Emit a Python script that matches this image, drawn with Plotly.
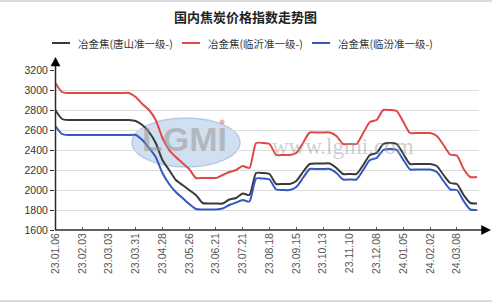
import plotly.graph_objects as go

# ---------------- data ----------------
dates = [
    "23.01.06", "23.01.13", "23.01.20", "23.01.27", "23.02.03", "23.02.10", "23.02.17", "23.02.24",
    "23.03.03", "23.03.10", "23.03.17", "23.03.24", "23.03.31", "23.04.07", "23.04.14", "23.04.21",
    "23.04.28", "23.05.05", "23.05.12", "23.05.19", "23.05.26", "23.06.02", "23.06.09", "23.06.16",
    "23.06.21", "23.06.30", "23.07.07", "23.07.14", "23.07.21", "23.07.28", "23.08.04", "23.08.11",
    "23.08.18", "23.08.25", "23.09.01", "23.09.08", "23.09.15", "23.09.22", "23.09.28", "23.10.07",
    "23.10.13", "23.10.20", "23.10.27", "23.11.03", "23.11.10", "23.11.17", "23.11.24", "23.12.01",
    "23.12.08", "23.12.15", "23.12.22", "23.12.29", "24.01.05", "24.01.12", "24.01.19", "24.01.26",
    "24.02.02", "24.02.08", "24.02.23", "24.03.01", "24.03.08", "24.03.15", "24.03.22", "24.03.29",
]

tangshan = [
    2800, 2710, 2700, 2700, 2700, 2700, 2700, 2700, 2700, 2700, 2700, 2700, 2690, 2650, 2580, 2470,
    2300, 2200, 2100, 2050, 2000, 1950, 1870, 1865, 1865, 1865, 1905, 1920, 1965, 1950, 2170, 2170,
    2160, 2060, 2060, 2060, 2090, 2180, 2260, 2265, 2265, 2265, 2220, 2160, 2160, 2160, 2250, 2350,
    2370, 2460, 2470, 2460, 2360, 2260, 2260, 2260, 2260, 2240, 2150, 2070, 2060, 1950, 1870, 1865,
]

linyi = [
    3070, 2980, 2970, 2970, 2970, 2970, 2970, 2970, 2970, 2970, 2970, 2970, 2930, 2860, 2800, 2700,
    2520, 2400, 2330, 2270, 2210, 2120, 2120, 2120, 2120, 2150, 2180, 2200, 2240, 2220, 2470, 2470,
    2460, 2350, 2350, 2350, 2370, 2470, 2575, 2575, 2575, 2575, 2540, 2460, 2460, 2460, 2570, 2680,
    2700, 2800, 2800, 2790, 2680, 2570, 2570, 2570, 2570, 2540, 2450, 2355, 2345, 2210, 2130, 2130,
]

linfen = [
    2640, 2560, 2550, 2550, 2550, 2550, 2550, 2550, 2550, 2550, 2550, 2550, 2550, 2500, 2420, 2330,
    2170, 2060, 1980, 1920, 1860, 1810, 1805, 1805, 1805, 1815, 1850, 1875, 1900, 1885, 2115, 2115,
    2105, 2005, 2000, 2000, 2030, 2120, 2210, 2210, 2210, 2210, 2170, 2105, 2105, 2105, 2200, 2300,
    2320, 2400, 2410, 2400, 2300, 2205, 2205, 2205, 2205, 2180, 2090, 2005, 2000, 1890, 1805, 1800,
]

series_names = ["冶金焦(唐山准一级-)", "冶金焦(临沂准一级-)", "冶金焦(临汾准一级-)"]
series_vals = [tangshan, linyi, linfen]
series_colors = ["#3a3a3a", "#e04848", "#3558c4"]

title_text = "国内焦炭价格指数走势图"
y_ticks = [1600, 1800, 2000, 2200, 2400, 2600, 2800, 3000, 3200]

# ---------------- geometry helpers (pixels -> paper) ----------------
W, H = 492, 303
L, R, T, B = 55, 13, 70, 73
PW, PH = W - L - R, H - T - B


def px(x):
    return (x - L) / PW


def py(y):
    return (H - B - y) / PH


fig = go.Figure()

for name, vals, col in zip(series_names, series_vals, series_colors):
    fig.add_trace(go.Scatter(
        x=dates, y=vals, mode="lines", name=name,
        line=dict(color=col, width=2, shape="spline", smoothing=0.6),
        showlegend=False, hoverinfo="skip",
    ))

shapes = []
annotations = []

# watermark ellipse (logo)
shapes.append(dict(type="circle", xref="paper", yref="paper", layer="below",
                   x0=px(132), x1=px(240), y0=py(167), y1=py(118),
                   fillcolor="rgba(170,198,232,0.55)", line=dict(color="rgba(150,180,220,0.6)", width=1.5)))
annotations.append(dict(xref="paper", yref="paper", x=px(140), y=py(139), text="<b>LGMI</b>",
                        xanchor="left", yanchor="middle",
                        showarrow=False, font=dict(family="Liberation Sans", size=34, color="rgba(150,150,150,0.55)")))
shapes.append(dict(type="circle", xref="paper", yref="paper", layer="below",
                   x0=px(219.5), x1=px(224.5), y0=py(124.5), y1=py(119.5),
                   fillcolor="rgba(230,120,120,0.6)", line=dict(width=0)))
annotations.append(dict(xref="paper", yref="paper", x=px(270), y=py(146), text="www.lgmi.com",
                        xanchor="left", yanchor="middle",
                        showarrow=False, font=dict(family="Liberation Serif", size=23, color="rgba(160,160,160,0.5)")))

# axis lines with arrows
axis_col = "#2b2b2b"
shapes.append(dict(type="line", xref="paper", yref="paper", x0=px(55.5), x1=px(55.5), y0=py(230), y1=py(63),
                   line=dict(color=axis_col, width=1.5)))
shapes.append(dict(type="path", xref="paper", yref="paper",
                   path=f"M {px(55.5)},{py(57.5)} L {px(51)},{py(66)} L {px(60)},{py(66)} Z",
                   fillcolor="black", line=dict(color="black", width=0.5)))
shapes.append(dict(type="line", xref="paper", yref="paper", x0=px(55), x1=px(484), y0=py(230), y1=py(230),
                   line=dict(color=axis_col, width=1.5)))
shapes.append(dict(type="path", xref="paper", yref="paper",
                   path=f"M {px(490.5)},{py(230)} L {px(481.5)},{py(225.5)} L {px(481.5)},{py(234.5)} Z",
                   fillcolor="black", line=dict(color="black", width=0.5)))

# outer border lines (top & bottom)
shapes.append(dict(type="line", xref="paper", yref="paper", x0=px(0), x1=px(492), y0=py(1), y1=py(1),
                   line=dict(color="#cfcfcf", width=1.5)))
shapes.append(dict(type="line", xref="paper", yref="paper", x0=px(0), x1=px(492), y0=py(301), y1=py(301),
                   line=dict(color="#cfcfcf", width=1.5)))

# custom legend
leg_items = [(52, 70, 76), (182, 200, 206), (312, 330, 336)]
for (x0, x1, tx), name, col in zip(leg_items, series_names, series_colors):
    shapes.append(dict(type="line", xref="paper", yref="paper", x0=px(x0), x1=px(x1), y0=py(43), y1=py(43),
                       line=dict(color=col, width=2)))
    annotations.append(dict(xref="paper", yref="paper", x=px(tx), y=py(43), text=name, showarrow=False,
                            xanchor="left", yanchor="middle",
                            font=dict(family="Noto Sans CJK SC", size=10.5, color="#333333")))

# title
annotations.append(dict(xref="paper", yref="paper", x=px(245), y=py(16), text="<b>" + title_text + "</b>",
                        showarrow=False, xanchor="center", yanchor="middle",
                        font=dict(family="Noto Sans CJK SC", size=13, color="#222222")))

fig.update_layout(
    width=W, height=H,
    margin=dict(l=L, r=R, t=T, b=B, pad=0),
    paper_bgcolor="white", plot_bgcolor="white",
    shapes=shapes, annotations=annotations,
    showlegend=False,
    xaxis=dict(
        type="category", range=[-0.05, 63.3],
        tickmode="array", tickvals=dates[::4], ticktext=dates[::4],
        tickangle=-90, ticks="inside", ticklen=3, tickcolor="#555",
        tickfont=dict(family="Liberation Sans", size=10.5, color="#555555"),
        showgrid=False, zeroline=False, showline=False,
    ),
    yaxis=dict(
        range=[1600, 3200], tickmode="array", tickvals=y_ticks,
        ticks="outside", ticklen=4, tickcolor="#333",
        tickfont=dict(family="Liberation Sans", size=10.5, color="#333333"),
        showgrid=True, gridcolor="#dcdcdc", gridwidth=1,
        zeroline=False, showline=False,
    ),
)

fig.write_html("out.html")
